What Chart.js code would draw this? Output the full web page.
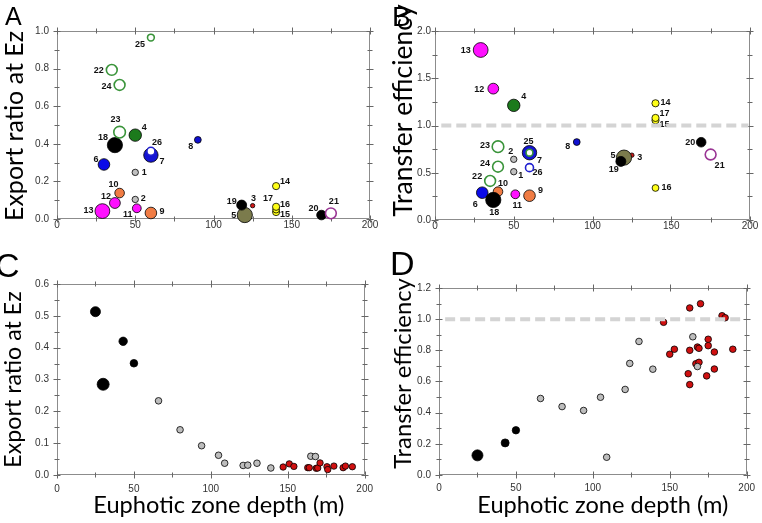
<!DOCTYPE html>
<html><head><meta charset="utf-8">
<script src="https://cdn.jsdelivr.net/npm/chart.js@4.4.1/dist/chart.umd.min.js"></script>
<style>
html,body{margin:0;padding:0;background:#fff;}
body{width:762px;height:523px;position:relative;overflow:hidden;}
.pane{position:absolute;}
.letter{position:absolute;font-family:"Liberation Sans",Arial,sans-serif;line-height:1;color:#000;z-index:5;}
</style></head>
<body>
<div class="pane" style="left:0;top:0"><canvas id="cA" width="381" height="261"></canvas></div>
<div class="pane" style="left:381px;top:0"><canvas id="cB" width="381" height="261"></canvas></div>
<div class="pane" style="left:0;top:261px"><canvas id="cC" width="381" height="262"></canvas></div>
<div class="pane" style="left:381px;top:261px"><canvas id="cD" width="381" height="262"></canvas></div>
<div class="letter" style="left:5px;top:4px;font-size:25px">A</div>
<div class="letter" style="left:392px;top:3px;font-size:28px">B</div>
<div class="letter" style="left:-5px;top:248px;font-size:34px">C</div>
<div class="letter" style="left:390px;top:246px;font-size:34px">D</div>
<script>
// ---------- Data: panels A & B (26 stations) ----------
const stationIds   = ['1','2','3','4','5','6','7','8','9','10','11','12','13','14','15','16','17','18','19','20','21','22','23','24','25','26'];
const ezDepth      = [50, 50, 125, 50, 120, 30, 60, 90, 60, 40, 51, 37, 29, 140, 140, 140, 140, 37, 118, 169, 175, 35, 40, 40, 60, 60];
const exportRatio  = [0.248,0.104,0.071,0.446,0.021,0.290,0.340,0.421,0.032,0.138,0.057,0.085,0.042,0.175,0.037,0.050,0.065,0.393,0.074,0.021,0.030,0.793,0.462,0.713,0.965,0.360];
const transferEff  = [0.511,0.642,0.686,1.213,0.660,0.289,0.712,0.825,0.257,0.300,0.272,1.390,1.799,1.235,1.055,0.339,1.080,0.212,0.620,0.823,0.693,0.413,0.776,0.564,0.712,0.554];

// ---------- Data: panels C & D ----------
const blackDepthC = [25, 30, 43, 50];
const blackExport = [0.513, 0.285, 0.420, 0.351];
const blackDepthD = [25, 43, 50];
const blackTE     = [0.126, 0.206, 0.287];
const grayDepth   = [66, 80, 94, 105, 109, 121, 124, 130, 139, 165, 168];
const grayExport  = [0.233,0.142,0.092,0.062,0.037,0.030,0.031,0.037,0.022,0.059,0.058];
const grayTE      = [0.491,0.439,0.414,0.499,0.114,0.549,0.716,0.857,0.679,0.887,0.696];
const redDepthC   = [147, 151, 154, 163, 164, 168.5, 169.5, 171, 175.5, 176, 180, 186, 187.5, 192];
const redExport   = [0.025,0.035,0.027,0.023,0.023,0.021,0.022,0.038,0.026,0.017,0.028,0.023,0.028,0.026];
const redDepthD   = [146, 150, 153, 162, 163, 163, 163, 167, 168, 169, 169, 170, 174, 175, 175, 179, 179, 184, 186, 191];
const redTE       = [0.980,0.775,0.807,0.650,0.580,0.800,1.072,0.714,0.821,0.813,0.723,1.099,0.636,0.871,0.830,0.789,0.680,1.022,1.009,0.807];

// reference line and axis ticks
const refLineX = [4, 199];
const refLineY = [1.0, 1.0];
const xTicks   = [0, 50, 100, 150, 200];

// ---------- Styles (kept separate from data) ----------
const stationColor = ['#c0c0c0','#c0c0c0','#d01818','#1c7a1c','#7b7b4c','#0b0be8','#1414d4','#1010d0','#f07c44','#f07c44','#ff10ff','#ff10ff','#ff10ff','#ffff18','#ffff18','#ffff18','#ffff18','#000000','#000000','#000000','#9a3594','#3a943a','#3a943a','#3a943a','#3a943a','#2020d0'];
const stationHollow = [0,0,0,0,0,0,0,0,0,0,0,0,0,0,0,0,0,0,0,0,1,1,1,1,1,1];
const stationRadius = [3.2,3.2,2.2,6.2,7.6,5.8,7.2,3.4,5.8,4.8,4.4,5.4,7.4,3.6,3.6,3.4,3.6,7.6,5.0,4.8,5.4,5.4,5.8,5.4,3.4,4.0];
const labelOffA = [[9,0],[8,-1],[1,-7],[9,-8],[-11,0],[-8,-5],[11,6],[-7,7],[11,-1],[-6,-9],[-9,6],[-9,-7],[-14,-1],[9,-5],[9,2],[9,-5],[-8,-8],[-12,-8],[-10,-4],[-8,-7],[3,-12],[-13,1],[-4,-13],[-13,2],[-11,7],[6,-9]];
const labelOffB = [[7,4],[-3,-8],[8,2],[10,-9],[-11,-2],[-7,12],[10,8],[-9,4],[11,-5],[5,-8],[2,11],[-14,1],[-15,1],[10,-1],[9,4],[11,0],[9,-4],[1,13],[-7,8],[-11,0],[9,11],[-13,-4],[-13,-1],[-13,-3],[-1,-11],[8,5]];

const TICK_FONT = {family:'"Liberation Sans", Arial, sans-serif', size:10};
const TITLE_FAMILY = 'Lato, "Liberation Sans", sans-serif';

// ---------- Plugin: frame, crossing ticks, station labels, axis titles ----------
const frameTicks = {
  id:'frameTicks',
  beforeDatasetsDraw(chart, args, o) {
    const {ctx, chartArea:a, scales:{x, y}} = chart;
    ctx.save();
    const L = Math.round(a.left)+0.5, R = Math.round(a.right)-0.5, T = Math.round(a.top)+0.5, B = Math.round(a.bottom)-0.5;
    ctx.strokeStyle = '#8c8c8c'; ctx.lineWidth = 1;
    ctx.beginPath(); ctx.moveTo(L,T); ctx.lineTo(R,T); ctx.lineTo(R,B); ctx.lineTo(L,B); ctx.closePath(); ctx.stroke();
    ctx.strokeStyle = '#666';
    ctx.beginPath();
    const nx = Math.round((x.max - x.min)/o.xMinor);
    for (let i=0;i<=nx;i++){
      const v = x.min + i*o.xMinor;
      const px = Math.round(x.getPixelForValue(v))+0.5;
      const major = (i % Math.round(o.xMajor/o.xMinor)) === 0;
      const out = major?4:3, inn = major?3:2;
      ctx.moveTo(px, B-inn); ctx.lineTo(px, B+out);
      ctx.moveTo(px, T-out); ctx.lineTo(px, T+inn);
    }
    const ny = Math.round((y.max - y.min)/o.yMinor);
    for (let i=0;i<=ny;i++){
      const v = y.min + i*o.yMinor;
      const py = Math.round(y.getPixelForValue(v))+0.5;
      const major = (i % Math.round(o.yMajor/o.yMinor)) === 0;
      const out = major?4:3, inn = major?3:2;
      ctx.moveTo(L-out, py); ctx.lineTo(L+inn, py);
      ctx.moveTo(R-inn, py); ctx.lineTo(R+out, py);
    }
    ctx.stroke();
    if (o.labels) {
      ctx.fillStyle = '#111';
      ctx.font = 'bold 9px "Liberation Sans", Arial, sans-serif';
      ctx.textAlign = 'center'; ctx.textBaseline = 'middle';
      const ds = chart.data.datasets[o.dsIndex];
      ds.data.forEach((p,i)=>{
        const px = x.getPixelForValue(p.x), py = y.getPixelForValue(p.y);
        ctx.fillText(o.labels[i], px + o.offsets[i][0], py + o.offsets[i][1]);
      });
    }
    ctx.restore();
  },
  afterDraw(chart, args, o) {
    const {ctx, chartArea:a} = chart;
    ctx.save();
    ctx.fillStyle = '#000';
    ctx.textAlign = 'center'; ctx.textBaseline = 'middle';
    if (o.yTitle) {
      const t = o.yTitle;
      ctx.font = t.size + 'px ' + TITLE_FAMILY;
      ctx.translate(t.cx, (a.top + a.bottom)/2 + t.dy);
      ctx.rotate(-Math.PI/2);
      ctx.fillText(t.text, 0, 0);
      ctx.setTransform(1,0,0,1,0,0);
    }
    if (o.xTitle) {
      const t = o.xTitle;
      ctx.font = t.size + 'px ' + TITLE_FAMILY;
      ctx.fillText(t.text, (a.left + a.right)/2 + t.dx, t.cy);
    }
    ctx.restore();
  }
};

function scales(c){
  return {
    x:{type:'linear', min:0, max:200,
       afterFit:s=>{s.height=c.xh;},
       grid:{display:false, drawTicks:false}, border:{display:false},
       afterBuildTicks:s=>{s.ticks = xTicks.map(v=>({value:v}));},
       ticks:{padding:c.xpad, color:'#333', font:TICK_FONT, maxRotation:0, autoSkip:false, callback:v=>String(v)},
       title:{display:false}},
    y:{type:'linear', min:0, max:c.ymax,
       afterFit:s=>{s.width=c.yw;},
       grid:{display:false, drawTicks:false}, border:{display:false},
       ticks:{stepSize:c.ymajor, padding:c.ypad, color:'#333', font:TICK_FONT, autoSkip:false, callback:v=>Number(v).toFixed(1)},
       title:{display:false}}
  };
}

function refLineDataset(){
  return {type:'line', data: refLineX.map((v,i)=>({x:v, y:refLineY[i]})), borderColor:'#d4d4d4', borderWidth:4, borderDash:[10,5], pointRadius:0, fill:false, tension:0, clip:false};
}

function stationDataset(yVals){
  return {type:'scatter', clip:false,
    data: ezDepth.map((v,i)=>({x:v, y:yVals[i]})),
    backgroundColor: stationColor.map((c,i)=> stationHollow[i] ? '#ffffff' : c),
    borderColor: stationColor.map((c,i)=> stationHollow[i] ? c : '#000000'),
    borderWidth: stationHollow.map(h=> h ? 1.6 : 0.8),
    pointRadius: stationRadius,
    pointHoverRadius: stationRadius};
}

function groupDataset(xs, ys, color, radius){
  return {type:'scatter', clip:false, data: xs.map((v,i)=>({x:v, y:ys[i]})), backgroundColor:color, borderColor:'#000', borderWidth:0.8, pointRadius:radius, pointHoverRadius:radius};
}

const baseOpts = (c, plug) => ({
  responsive:false, animation:false, events:[],
  layout:{padding:c.pad},
  plugins:{legend:{display:false}, tooltip:{enabled:false}, frameTicks:plug},
  scales:scales(c)
});

// Panel A
new Chart(document.getElementById('cA'), {
  type:'scatter',
  data:{datasets:[stationDataset(exportRatio)]},
  options: baseOpts({pad:{left:0,top:31,right:11,bottom:0}, xh:42, yw:57, xpad:0, ypad:8, ymax:1, ymajor:0.2},
           {xMinor:25, xMajor:50, yMinor:0.1, yMajor:0.2, labels:stationIds, offsets:labelOffA, dsIndex:0,
            yTitle:{text:'Export ratio at Ez', size:25, cx:15, dy:1}}),
  plugins:[frameTicks]
});

// Panel B
new Chart(document.getElementById('cB'), {
  type:'scatter',
  data:{datasets:[refLineDataset(), stationDataset(transferEff)]},
  options: baseOpts({pad:{left:0,top:31,right:12,bottom:0}, xh:41, yw:54, xpad:0, ypad:4, ymax:2, ymajor:0.5},
           {xMinor:25, xMajor:50, yMinor:0.25, yMajor:0.5, labels:stationIds, offsets:labelOffB, dsIndex:1,
            yTitle:{text:'Transfer efficiency', size:26.5, cx:22, dy:-15}}),
  plugins:[frameTicks]
});

// Panel C
new Chart(document.getElementById('cC'), {
  type:'scatter',
  data:{datasets:[
    groupDataset(blackDepthC, blackExport, '#000', [5.0,6.0,4.2,3.8]),
    groupDataset(grayDepth, grayExport, '#bdbdbd', 3.3),
    groupDataset(redDepthC, redExport, '#d01010', 3.2)]},
  options: baseOpts({pad:{left:0,top:23,right:8,bottom:0}, xh:48, yw:57, xpad:8, ypad:8, ymax:0.6, ymajor:0.1},
           {xMinor:25, xMajor:50, yMinor:0.05, yMajor:0.1,
            yTitle:{text:'Export ratio at Ez', size:23.2, cx:14, dy:0},
            xTitle:{text:'Euphotic zone depth (m)', size:23.6, dx:8, cy:244}}),
  plugins:[frameTicks]
});

// Panel D
new Chart(document.getElementById('cD'), {
  type:'scatter',
  data:{datasets:[
    refLineDataset(),
    groupDataset(blackDepthD, blackTE, '#000', [5.5,4.0,3.7]),
    groupDataset(grayDepth, grayTE, '#bdbdbd', 3.3),
    groupDataset(redDepthD, redTE, '#d01010', 3.3)]},
  options: baseOpts({pad:{left:0,top:27,right:12,bottom:0}, xh:48, yw:58, xpad:7, ypad:8, ymax:1.2, ymajor:0.2},
           {xMinor:25, xMajor:50, yMinor:0.1, yMajor:0.2,
            yTitle:{text:'Transfer efficiency', size:23.8, cx:22, dy:-8},
            xTitle:{text:'Euphotic zone depth (m)', size:23.6, dx:10, cy:244}}),
  plugins:[frameTicks]
});
</script>
</body></html>
